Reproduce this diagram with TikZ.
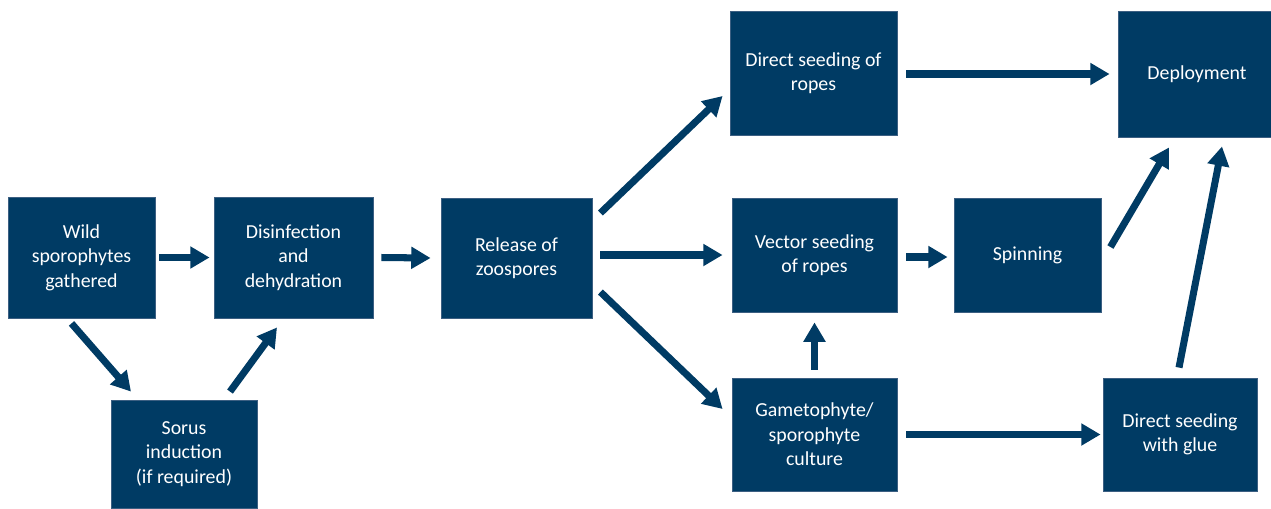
\documentclass[tikz,border=0pt]{standalone}
\usepackage{fontspec}
\setmainfont{Carlito}
\usepackage{tikz}
\usetikzlibrary{arrows.meta}
\usetikzlibrary{positioning, calc}

\definecolor{kelpblue}{RGB}{0,59,100}
\definecolor{kelpedge}{RGB}{60,95,130}

\begin{document}
\begin{tikzpicture}[
    x=0.02cm, y=-0.02cm,
    box/.style={fill=kelpblue, draw=kelpedge, line width=0.5pt, text=white, align=center, inner sep=2pt, font=\fontsize{11.3}{14}\selectfont},
    flow/.style={kelpblue, line width=4pt, -{Triangle[length=11pt, width=12pt]}}
]
    \useasboundingbox (0, 0) rectangle (1271, 508);

    \node [box, minimum width=2.94cm, minimum height=2.42cm] (wild) at (81.5, 257.5) {Wild\\sporophytes\\gathered};
    \node [box, minimum width=3.18cm, minimum height=2.42cm] (dis) at (293.5, 257.5) {Disinfection\\and\\dehydration};
    \node [box, minimum width=2.92cm, minimum height=2.16cm] (sorus) at (184, 454) {Sorus\\induction\\(if required)};
    \node [box, minimum width=3.02cm, minimum height=2.40cm] (rel) at (516.5, 258) {Release of\\zoospores};
    \node [box, minimum width=3.34cm, minimum height=2.48cm] (dsr) at (813.5, 73) {Direct seeding of\\ropes};
    \node [box, minimum width=3.30cm, minimum height=2.28cm] (vsr) at (814.5, 255) {Vector seeding\\of ropes};
    \node [box, minimum width=3.30cm, minimum height=2.26cm] (gsc) at (814.5, 434.5) {Gametophyte/\\sporophyte\\culture};
    \node [box, minimum width=2.94cm, minimum height=2.28cm] (spin) at (1027.5, 255) {Spinning};
    \node [box, minimum width=3.16cm, minimum height=2.52cm] (dep) at (1197, 74) {Deployment};
    \node [box, minimum width=3.08cm, minimum height=2.26cm] (dsg) at (1180, 434.5) {Direct seeding\\with glue};

    % left part
    \draw[flow] ($(wild.east) +(4, 0) $) to ($(dis.west) -(4, 0) $);
    \draw[flow] ($(dis.east) +(8, 0) $) to ($(rel.west) -(10, 0) $);
    \draw[flow] ($(wild.south) +(-10, 5) $) to ($(sorus.north) +(-53, -8) $);
    \draw[flow] ($(sorus.north) +(46, -8) $) to ($(dis.south) +(-16.5, 9) $);

    % fan out from the zoospores
    \draw[flow] ($(rel.east) +(8, -45) $) to ($(dsr.west) +(-7, 23) $);
    \draw[flow] ($(rel.east) +(8, -3) $) to ($(vsr.west) +(-9, 0) $);
    \draw[flow] ($(rel.east) +(8, 34) $) to ($(gsc.west) +(-9, -25.5) $);
    \draw[flow] ($(gsc.north) +(0, -8) $) to ($(vsr.south) +(0, 10) $);

    % right part
    \draw[flow] ($(dsr.east) +(9, 1) $) to ($(dep.west) +(-8, 0) $);
    \draw[flow] ($(vsr.east) +(9, 2) $) to ($(spin.west) +(-6, 2) $);
    \draw[flow] ($(spin.east) +(9, -8) $) to ($(dep.south) +(-28, 10) $);
    \draw[flow] ($(gsc.east) +(9, 0) $) to ($(dsg.west) +(-2, 0) $);
    \draw[flow] ($(dsg.north) +(-1, -10) $) to ($(dep.south) +(25, 9) $);

\end{tikzpicture}
\end{document}
